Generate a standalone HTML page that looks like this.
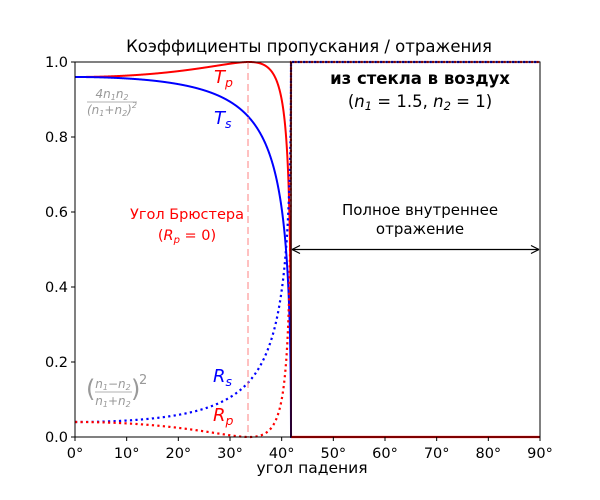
<!DOCTYPE html>
<html><head><meta charset="utf-8"><style>
body{margin:0;background:#fff}
svg{display:block;font-family:"DejaVu Sans","Liberation Sans",sans-serif}
</style></head><body>
<svg id="s" width="600" height="500" viewBox="0 0 600 500" xmlns="http://www.w3.org/2000/svg">
<rect width="600" height="500" fill="#fff"/>
<g id="curves"></g>
<line x1="248" y1="62" x2="248" y2="437" stroke="#f88" stroke-width="1.3" stroke-dasharray="7,4" opacity="0.8"/>
<rect x="75" y="62" width="465" height="375" fill="none" stroke="#000" stroke-width="1"/>
<g id="ticks" font-size="14.5" fill="#000"></g>
<text x="309" y="52" font-size="16.5" text-anchor="middle">Коэффициенты пропускания / отражения</text>
<text x="312" y="473" font-size="15.5" text-anchor="middle">угол падения</text>
<g font-size="18" font-style="italic">
<text x="214" y="83" fill="#f00">T<tspan font-size="12.5" dy="4">p</tspan></text>
<text x="214" y="124" fill="#00f">T<tspan font-size="12.5" dy="4">s</tspan></text>
<text x="213" y="382" fill="#00f">R<tspan font-size="12.5" dy="4">s</tspan></text>
<text x="213" y="421" fill="#f00">R<tspan font-size="12.5" dy="4">p</tspan></text>
</g>
<text x="187" y="219" font-size="14.5" fill="#f00" text-anchor="middle">Угол Брюстера</text>
<text x="187" y="240" font-size="14.5" fill="#f00" text-anchor="middle">(<tspan font-style="italic">R<tspan font-size="10" dy="3">p</tspan></tspan><tspan dy="-3"> = 0)</tspan></text>
<text x="420" y="84" font-size="16.5" font-weight="bold" text-anchor="middle">из стекла в воздух</text>
<text x="420" y="107" font-size="16.5" text-anchor="middle">(<tspan font-style="italic">n<tspan font-size="11.5" dy="3">1</tspan></tspan><tspan dy="-3"> = 1.5, </tspan><tspan font-style="italic">n<tspan font-size="11.5" dy="3">2</tspan></tspan><tspan dy="-3"> = 1)</tspan></text>
<text x="420" y="215" font-size="15" text-anchor="middle">Полное внутреннее</text>
<text x="420" y="234" font-size="15" text-anchor="middle">отражение</text>
<line x1="292" y1="249.5" x2="539" y2="249.5" stroke="#000" stroke-width="1.2"/>
<path d="M292,249.5 l8,-4 M292,249.5 l8,4 M539,249.5 l-8,-4 M539,249.5 l-8,4" stroke="#000" stroke-width="1.2" fill="none"/>
<g fill="#999" font-style="italic" font-size="12">
<text x="112" y="98" text-anchor="middle">4n<tspan font-size="8" dy="2">1</tspan><tspan dy="-2">n</tspan><tspan font-size="8" dy="2">2</tspan></text>
<line x1="87" y1="102" x2="137" y2="102" stroke="#999" stroke-width="0.8"/>
<text x="87" y="114">(n<tspan font-size="8" dy="2">1</tspan><tspan dy="-2">+n</tspan><tspan font-size="8" dy="2">2</tspan><tspan dy="-2">)</tspan><tspan font-size="8" dy="-6">2</tspan></text>
<text x="86" y="397" font-size="24" font-style="normal">(</text>
<text x="113" y="388" text-anchor="middle">n<tspan font-size="8" dy="2">1</tspan><tspan dy="-2">−n</tspan><tspan font-size="8" dy="2">2</tspan></text>
<line x1="95" y1="392" x2="132" y2="392" stroke="#999" stroke-width="0.8"/>
<text x="113" y="405" text-anchor="middle">n<tspan font-size="8" dy="2">1</tspan><tspan dy="-2">+n</tspan><tspan font-size="8" dy="2">2</tspan></text>
<text x="131" y="397" font-size="24" font-style="normal">)</text>
<text x="139" y="384" font-size="13" font-style="normal">2</text>
</g>
</svg>
<script>
(function(){
var X=function(a){return 75+a*465/90},Y=function(v){return 437-v*375};
var n1=1.5,n2=1,tc=Math.asin(n2/n1)*180/Math.PI;
var rs=[],rp=[];
for(var i=0;i<=2000;i++){var a=tc*i/2000;if(a>=tc)a=tc-1e-9;var t=a*Math.PI/180;
var ci=Math.cos(t),st=n1/n2*Math.sin(t),ct=Math.sqrt(Math.max(0,1-st*st));
var s=(n1*ci-n2*ct)/(n1*ci+n2*ct),p=(n1*ct-n2*ci)/(n1*ct+n2*ci);
rs.push([a,s*s]);rp.push([a,p*p]);}
rs.push([tc,1]);rp.push([tc,1]);
function path(arr,f){return arr.map(function(q,i){return (i?'L':'M')+X(q[0]).toFixed(2)+','+Y(f(q[1])).toFixed(2)}).join('')}
var xc=X(tc);
var g='';
g+='<path d="'+path(rp,function(v){return 1-v})+'L'+xc+','+Y(0)+'L540,'+Y(0)+'" fill="none" stroke="#f00" stroke-width="2"/>';
g+='<path d="'+path(rs,function(v){return 1-v})+'L'+xc+','+Y(0)+'L540,'+Y(0)+'" fill="none" stroke="#00f" stroke-width="2"/>';
g+='<line x1="'+xc+'" y1="'+Y(0)+'" x2="540" y2="'+Y(0)+'" stroke="#f00" stroke-width="2.2"/>';
g+='<path d="'+path(rs,function(v){return v})+'L540,'+Y(1)+'" fill="none" stroke="#00f" stroke-width="2.2" stroke-dasharray="2.2,3.3"/>';
g+='<path d="'+path(rp,function(v){return v})+'L540,'+Y(1)+'" fill="none" stroke="#f00" stroke-width="2.2" stroke-dasharray="2.2,3.3"/>';
g+='<line x1="'+xc+'" y1="'+Y(0)+'" x2="'+xc+'" y2="'+Y(1)+'" stroke="#300" stroke-width="1.6"/>';
document.getElementById('curves').innerHTML=g;
var t='';
for(var k=0;k<=9;k++){var x=X(k*10);t+='<line x1="'+x+'" y1="437" x2="'+x+'" y2="441" stroke="#000"/><text x="'+x+'" y="458" text-anchor="middle">'+(k*10)+'°</text>';}
for(var k=0;k<=5;k++){var y=Y(k*0.2);t+='<line x1="71" y1="'+y+'" x2="75" y2="'+y+'" stroke="#000"/><text x="68" y="'+(y+5)+'" text-anchor="end">'+(k*0.2).toFixed(1)+'</text>';}
document.getElementById('ticks').innerHTML=t;
})();
</script>
</body></html>
